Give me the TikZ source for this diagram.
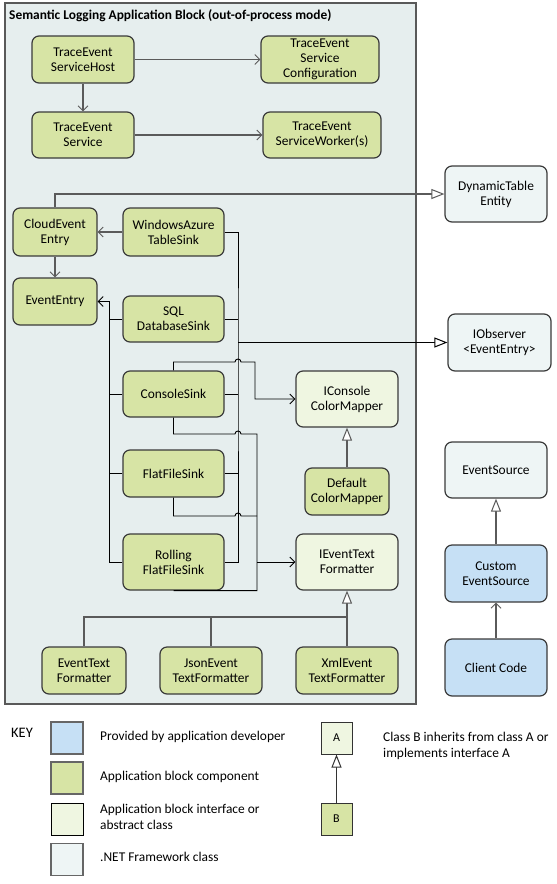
\documentclass[tikz,border=0pt]{standalone}
\usepackage{fontspec}
\setmainfont{Carlito}
\usetikzlibrary{arrows.meta}
\definecolor{appgreen}{HTML}{D7E4A5}
\definecolor{ifgreen}{HTML}{EFF6E1}
\definecolor{netcol}{HTML}{EEF5F5}
\definecolor{devblue}{HTML}{C6E0F5}
\definecolor{framebg}{HTML}{E6EEEE}
\definecolor{edgecol}{HTML}{3A3A3A}
\definecolor{conncol}{HTML}{5A5A5A}
\begin{document}
\begin{tikzpicture}[x=1pt,y=-1pt,
  box/.style={draw=edgecol, line width=1.2pt, rounded corners=7pt, align=center, inner sep=0pt, font=\fontsize{13.4}{15}\selectfont, text=black},
  comp/.style={box, fill=appgreen},
  intf/.style={box, fill=ifgreen},
  net/.style={box, fill=netcol},
  dev/.style={box, fill=devblue},
  vtip/.style={-{Straight Barb[length=5pt,width=10pt,line width=0.9pt]}},
  ttip/.style={-{Triangle[open,fill=white,length=13pt,width=10pt,line width=1pt]}},
  dep/.style={draw=conncol, line width=1.3pt, vtip},
  gen/.style={draw=conncol, line width=1.3pt, ttip},
  wire/.style={draw=black, line width=0.9pt},
  keybox/.style={draw=gray!80!black, line width=1.3pt, minimum width=32pt, minimum height=32pt, inner sep=0pt},
  keytext/.style={anchor=west, align=left, inner sep=0pt, font=\fontsize{13.4}{16}\selectfont}
]
\useasboundingbox (0,0) rectangle (557,884);
% frame
\draw[draw=gray!70!black, line width=1.3pt, fill=framebg] (5,3) rectangle (416,704);
\node[anchor=west, inner sep=0pt, font=\bfseries\fontsize{13.4}{15}\selectfont] (title) at (9,16) {Semantic Logging Application Block (out-of-process mode)};

% nodes
\node[comp, minimum width=102pt, minimum height=47pt] (host) at (83,59.5) {TraceEvent\\ServiceHost};
\node[comp, minimum width=118pt, minimum height=47pt] (config) at (320,59.5) {TraceEvent\\Service\\Configuration};
\node[comp, minimum width=102pt, minimum height=46pt] (service) at (83,135) {TraceEvent\\Service};
\node[comp, minimum width=118pt, minimum height=46pt] (worker) at (322,135) {TraceEvent\\ServiceWorker(s)};
\node[comp, minimum width=84pt, minimum height=48pt] (cloud) at (55,232) {CloudEvent\\Entry};
\node[comp, minimum width=101pt, minimum height=48pt] (azure) at (173.5,232) {WindowsAzure\\TableSink};
\node[comp, minimum width=84pt, minimum height=47pt] (entry) at (55,301.5) {EventEntry};
\node[comp, minimum width=101pt, minimum height=46pt] (sql) at (173.5,319) {SQL\\DatabaseSink};
\node[comp, minimum width=101pt, minimum height=46pt] (console) at (173.5,394) {ConsoleSink};
\node[intf, minimum width=102pt, minimum height=56pt] (icolor) at (347,399) {IConsole\\ColorMapper};
\node[comp, minimum width=101pt, minimum height=47pt] (flat) at (173.5,473.5) {FlatFileSink};
\node[comp, minimum width=84pt, minimum height=47pt] (defcolor) at (347,491.5) {Default\\ColorMapper};
\node[comp, minimum width=101pt, minimum height=56pt] (rolling) at (173.5,562) {Rolling\\FlatFileSink};
\node[intf, minimum width=102pt, minimum height=56pt] (iformatter) at (347,562) {IEventText\\Formatter};
\node[comp, minimum width=84pt, minimum height=47pt] (etf) at (84,670.5) {EventText\\Formatter};
\node[comp, minimum width=102pt, minimum height=47pt] (json) at (211,670.5) {JsonEvent\\TextFormatter};
\node[comp, minimum width=102pt, minimum height=47pt] (xml) at (347,670.5) {XmlEvent\\TextFormatter};
\node[net, minimum width=102pt, minimum height=56pt] (dyn) at (496,194) {DynamicTable\\Entity};
\node[net, minimum width=103pt, minimum height=57pt] (iobs) at (499.5,342.5) {IObserver\\<EventEntry>};
\node[net, minimum width=102pt, minimum height=56pt] (es) at (496,470) {EventSource};
\node[dev, minimum width=102pt, minimum height=57pt] (ces) at (496,573.5) {Custom\\EventSource};
\node[dev, minimum width=102pt, minimum height=57pt] (client) at (496,667.5) {Client Code};

% top connectors
\draw[dep] (host) -- (config);
\draw[dep] (host) -- (service);
\draw[dep] (service) -- (worker);

% cloud entry
\draw[gen] (cloud.north) |- (dyn.west);
\draw[dep] (azure.west) -- (cloud.east);
\draw[dep] (cloud.south) -- (entry.north);

% sinks -> EventEntry (left bus)
\coordinate (lbus) at (109,301.5);
\draw[wire, vtip] (rolling.west) -| (lbus) -- (entry.east);
\draw[wire] (sql.west) -- (sql.west -| lbus);
\draw[wire] (console.west) -- (console.west -| lbus);
\draw[wire] (flat.west) -- (flat.west -| lbus);

% sinks -> IObserver (right bus)
\coordinate (rbus) at (238,342.5);
\draw[wire] (azure.east) -| (rbus) |- (rolling.east);
\draw[wire] (sql.east) -- (sql.east -| rbus);
\draw[wire] (console.east) -- (console.east -| rbus);
\draw[wire] (flat.east) -- (flat.east -| rbus);
\draw[draw=black, line width=1.6pt, ttip] (rbus) -- (iobs.west);

% console -> IConsoleColorMapper
\draw[wire, vtip] (console.north) |- (235,362) .. controls (235,358) and (241,358) .. (241,362) -| (255,399) -- (icolor.west);

% sinks -> IEventTextFormatter
\coordinate (fbus) at (257,562);
\draw[wire] (console.south) |- (235,434) .. controls (235,430) and (241,430) .. (241,434) -| (fbus) |- (rolling.south);
\draw[wire] (flat.south) |- (235,516) .. controls (235,512) and (241,512) .. (241,516) -- (257,516);
\draw[wire, vtip] (fbus) -- (iformatter.west);

% inheritance
\draw[gen] (defcolor.north) -- (icolor.south);
\coordinate (fj) at (347,617);
\draw[draw=conncol, line width=1.3pt] (etf.north) |- (fj);
\draw[draw=conncol, line width=1.7pt] (json.north) |- (fj);
\draw[gen] (xml.north) -- (iformatter.south);
\draw[gen] (ces.north) -- (es.south);
\draw[dep] (client.north) -- (ces.south);

% key
\node[anchor=west, inner sep=0pt, font=\fontsize{14.5}{16}\selectfont] (keylabel) at (11,733) {KEY};
\node[keybox, fill=devblue] (k1) at (67,738) {};
\node[keybox, fill=appgreen] (k2) at (67,778) {};
\node[keybox, fill=ifgreen, draw=black, line width=1pt] (k3) at (67,819.5) {};
\node[keybox, fill=netcol] (k4) at (67,859.5) {};
\node[keytext] (t1) at (100,737) {Provided by application developer};
\node[keytext] (t2) at (100,777) {Application block component};
\node[keytext] (t3) at (100,817) {Application block interface or\\abstract class};
\node[keytext] (t4) at (100,857) {.NET Framework class};
\node[keybox, fill=ifgreen, draw=black!80, line width=1pt, minimum width=31pt, font=\fontsize{12}{14}\selectfont] (ka) at (336.5,738) {A};
\node[keybox, fill=appgreen, draw=black!80, line width=1pt, minimum width=31pt, font=\fontsize{12}{14}\selectfont] (kb) at (336.5,819) {B};
\draw[draw=black!80, line width=1.2pt, ttip] (kb.north) -- (ka.south);
\node[keytext] (t5) at (383,746) {Class B inherits from class A or\\implements interface A};
\end{tikzpicture}
\end{document}
